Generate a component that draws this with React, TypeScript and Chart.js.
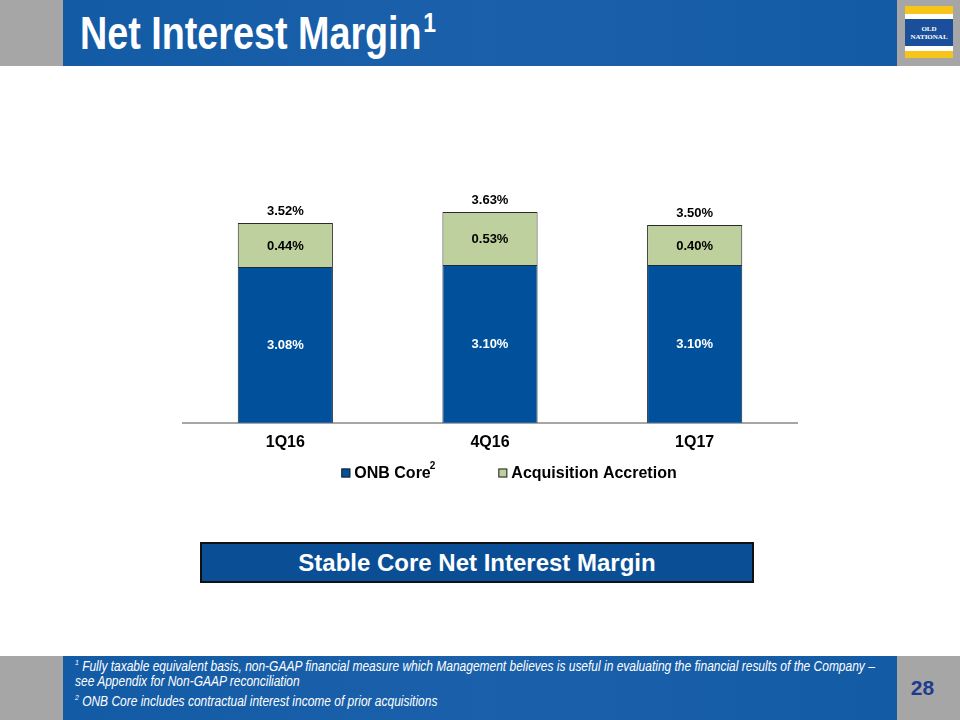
import React, { useEffect, useRef } from "react";
import { Chart, registerables } from "chart.js";

Chart.register(...registerables);

const categories = ["1Q16", "4Q16", "1Q17"];
const onbCore = [3.08, 3.1, 3.1];
const accretion = [0.44, 0.53, 0.4];
const seriesNames = ["ONB Core", "Acquisition Accretion"];
const seriesMarks = ["2", ""];
const seriesColors = ["#00509B", "#BDD09E"];

const FONT = "'Liberation Sans', Arial, sans-serif";

function ChartBlock() {
  const ref = useRef<HTMLCanvasElement | null>(null);
  useEffect(() => {
    if (!ref.current) return;
    const labelPlugin = {
      id: "valueLabels",
      afterDatasetsDraw(chart: any) {
        const ctx = chart.ctx;
        const area = chart.chartArea;
        ctx.save();
        ctx.textAlign = "center";
        ctx.textBaseline = "middle";
        const m0 = chart.getDatasetMeta(0);
        const m1 = chart.getDatasetMeta(1);
        m0.data.forEach((el: any, i: number) => {
          const p = el.getProps(["x", "y", "base"], true);
          const b = Math.min(p.base, area.bottom);
          ctx.fillStyle = "#ffffff";
          ctx.font = `bold 13px ${FONT}`;
          ctx.fillText(onbCore[i].toFixed(2) + "%", p.x, (p.y + b) / 2 + 1);
        });
        m1.data.forEach((el: any, i: number) => {
          const p = el.getProps(["x", "y", "base"], true);
          ctx.fillStyle = "#000000";
          ctx.font = `bold 13px ${FONT}`;
          ctx.fillText(accretion[i].toFixed(2) + "%", p.x, (p.y + p.base) / 2 + 1);
          const total = onbCore[i] + accretion[i];
          ctx.fillText(total.toFixed(2) + "%", p.x, p.y - 12);
        });
        ctx.restore();
      },
      afterDraw(chart: any) {
        const ctx = chart.ctx;
        ctx.save();
        ctx.textBaseline = "middle";
        ctx.textAlign = "left";
        const y = 403;
        const box = 9;
        const gap = 62;
        const widths = seriesNames.map((n, i) => {
          ctx.font = `bold 16px ${FONT}`;
          let w = box + 4 + ctx.measureText(n).width;
          if (seriesMarks[i]) {
            ctx.font = `bold 10px ${FONT}`;
            w += ctx.measureText(seriesMarks[i]).width;
          }
          return w;
        });
        const total = widths.reduce((a, b) => a + b, 0) + gap * (widths.length - 1);
        let x = 509 - total / 2;
        seriesNames.forEach((n, i) => {
          ctx.fillStyle = seriesColors[i];
          ctx.fillRect(x, y - box / 2, box, box);
          ctx.strokeStyle = "#222";
          ctx.lineWidth = 1;
          ctx.strokeRect(x + 0.5, y - box / 2 + 0.5, box - 1, box - 1);
          ctx.fillStyle = "#000";
          ctx.font = `bold 16px ${FONT}`;
          const tx = x + box + 4;
          ctx.fillText(n, tx, y + 1);
          const tw = ctx.measureText(n).width;
          if (seriesMarks[i]) {
            ctx.font = `bold 10px ${FONT}`;
            ctx.fillText(seriesMarks[i], tx + tw - 1, y - 7);
          }
          x += widths[i] + gap;
        });
        ctx.restore();
      },
    };

    const chart = new Chart(ref.current, {
      type: "bar",
      data: {
        labels: categories,
        datasets: [
          {
            label: seriesNames[0],
            data: onbCore,
            backgroundColor: seriesColors[0],
            borderColor: "#1c2a3a",
            borderWidth: 1,
            clip: 0,
          } as any,
          {
            label: seriesNames[1],
            data: accretion,
            backgroundColor: seriesColors[1],
            borderColor: "#2a2a2a",
            borderWidth: 1,
            clip: 0,
          } as any,
        ],
      },
      options: {
        responsive: false,
        devicePixelRatio: 1,
        animation: false,
        datasets: { bar: { categoryPercentage: 1, barPercentage: 0.465 } },
        layout: { padding: { left: 183, right: 163, top: 103, bottom: 48 } },
        plugins: {
          legend: { display: false },
          tooltip: { enabled: false },
          title: { display: false },
        },
        scales: {
          x: {
            stacked: true,
            grid: { display: false, drawTicks: false },
            border: { display: true, color: "#A6A6A6", width: 2 },
            ticks: {
              padding: 10,
              color: "#000",
              font: { family: FONT, size: 16, weight: "bold" },
            },
          },
          y: {
            stacked: true,
            display: false,
            min: 1.52,
            max: 4.02,
          },
        },
      },
      plugins: [labelPlugin],
    });
    return () => chart.destroy();
  }, []);
  return (
    <canvas
      ref={ref}
      width={960}
      height={440}
      style={{ position: "absolute", left: 0, top: 70, width: 960, height: 440 }}
    />
  );
}

export default function App() {
  const gray = "#A6A6A6";
  const blue = "linear-gradient(90deg, #145BA6 0%, #1A60AA 50%, #145BA6 100%)";
  return (
    <div
      style={{
        position: "absolute",
        left: 0,
        top: 0,
        width: 960,
        height: 720,
        background: "#fff",
        overflow: "hidden",
        fontFamily: FONT,
      }}
    >
      {/* header */}
      <div style={{ position: "absolute", left: 0, top: 0, width: 63, height: 66, background: gray }} />
      <div style={{ position: "absolute", left: 63, top: 0, width: 834, height: 66, background: blue }} />
      <div style={{ position: "absolute", left: 897, top: 0, width: 63, height: 66, background: gray }} />
      <div
        style={{
          position: "absolute",
          left: 80,
          top: 10,
          color: "#fff",
          fontWeight: "bold",
          fontSize: 46,
          lineHeight: "46px",
          whiteSpace: "nowrap",
          transform: "scaleX(0.82)",
          transformOrigin: "left top",
        }}
      >
        Net Interest Margin
        <span style={{ fontSize: 28, position: "relative", top: -17, marginLeft: 2 }}>1</span>
      </div>
      {/* logo */}
      <div style={{ position: "absolute", left: 905, top: 6, width: 48, height: 52, background: "#fff" }}>
        <div style={{ position: "absolute", left: 0, top: 0, width: 48, height: 8, background: "#F7C419" }} />
        <div style={{ position: "absolute", left: 0, top: 13, width: 48, height: 27, background: "#1B4F9C" }} />
        <div style={{ position: "absolute", left: 0, top: 45, width: 48, height: 7, background: "#F7C419" }} />
        <div
          style={{
            position: "absolute",
            left: 0,
            top: 19,
            width: 48,
            textAlign: "center",
            color: "#fff",
            fontFamily: "'Liberation Serif', 'DejaVu Serif', serif",
            fontWeight: "bold",
            fontSize: 7,
            lineHeight: "8px",
          }}
        >
          OLD
          <br />
          NATIONAL
        </div>
      </div>

      <ChartBlock />

      {/* callout box */}
      <div
        style={{
          position: "absolute",
          left: 200,
          top: 542,
          width: 550,
          height: 37,
          border: "2px solid #111",
          background: "#0A4F96",
          color: "#fff",
          fontWeight: "bold",
          fontSize: 24,
          lineHeight: "37px",
          textAlign: "center",
        }}
      >
        Stable Core Net Interest Margin
      </div>

      {/* footer */}
      <div style={{ position: "absolute", left: 0, top: 656, width: 63, height: 64, background: gray }} />
      <div style={{ position: "absolute", left: 63, top: 656, width: 834, height: 64, background: blue }} />
      <div style={{ position: "absolute", left: 897, top: 656, width: 63, height: 64, background: gray }} />
      <div
        style={{
          position: "absolute",
          left: 75,
          top: 659,
          color: "#fff",
          fontStyle: "italic",
          fontSize: 14,
          lineHeight: "15px",
          whiteSpace: "nowrap",
          transform: "scaleX(0.855)",
          transformOrigin: "left top",
        }}
      >
        <sup style={{ fontSize: 8, lineHeight: 0 }}>1</sup> Fully taxable equivalent basis, non-GAAP financial measure
        which Management believes is useful in evaluating the financial results of the Company –
        <br />
        see Appendix for Non-GAAP reconciliation
        <div style={{ height: 5 }} />
        <sup style={{ fontSize: 8, lineHeight: 0 }}>2</sup> ONB Core includes contractual interest income of prior
        acquisitions
      </div>
      <div
        style={{
          position: "absolute",
          left: 895,
          top: 676,
          width: 55,
          textAlign: "center",
          color: "#1F3C8C",
          fontWeight: "bold",
          fontSize: 21,
          lineHeight: "24px",
        }}
      >
        28
      </div>
    </div>
  );
}
